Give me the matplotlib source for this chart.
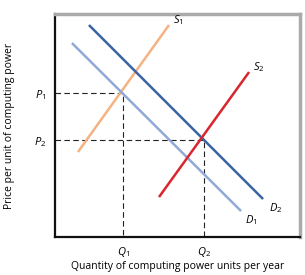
import matplotlib
matplotlib.use("Agg")
import matplotlib.pyplot as plt

plt.rcParams['font.family'] = ['Open Sans', 'DejaVu Sans']
plt.rcParams['mathtext.fontset'] = 'custom'
plt.rcParams['mathtext.it'] = 'Open Sans:italic'
plt.rcParams['mathtext.rm'] = 'Open Sans'

# curve end points (quantity, price), arbitrary units
s1_x = [23, 114]
s1_y = [85, 212]
s2_x = [104, 194]
s2_y = [40, 165]
d1_x = [17, 186]
d1_y = [194, 26]
d2_x = [34, 208]
d2_y = [212, 38]

# equilibrium points
q1, p1 = 68, 144
q2, p2 = 149, 97

fig = plt.figure(figsize=(3.05, 2.75), dpi=100)
ax = fig.add_axes([0.180, 0.138, 0.804, 0.811])
ax.set_xlim(0, 245)
ax.set_ylim(0, 223)

# dashed guides
ax.plot([0, q1, q1], [p1, p1, 0], ls=(0, (5, 3)), color='#222222', lw=0.8)
ax.plot([0, q2, q2], [p2, p2, 0], ls=(0, (5, 3)), color='#222222', lw=0.8)

ax.plot(s1_x, s1_y, color='#F5B283', lw=1.8, solid_capstyle='butt')
ax.plot(d1_x, d1_y, color='#91A9D6', lw=1.8, solid_capstyle='butt')
ax.plot(d2_x, d2_y, color='#3B64A3', lw=1.8, solid_capstyle='butt')
ax.plot(s2_x, s2_y, color='#D9262E', lw=1.8, solid_capstyle='butt')

fs = 8
ax.text(s1_x[1] + 4, s1_y[1] + 5, '$S_1$', fontsize=fs, ha='left', va='center')
ax.text(s2_x[1] + 4, s2_y[1] + 5, '$S_2$', fontsize=fs, ha='left', va='center')
ax.text(d1_x[1] + 4, d1_y[1] - 9, '$D_1$', fontsize=fs, ha='left', va='center')
ax.text(d2_x[1] + 6, d2_y[1] - 9, '$D_2$', fontsize=fs, ha='left', va='center')

ax.set_xticks([q1, q2])
ax.set_xticklabels(['$Q_1$', '$Q_2$'], fontsize=fs)
ax.set_yticks([p2, p1])
ax.set_yticklabels(['$P_2$', '$P_1$'], fontsize=fs)
ax.tick_params(length=0, pad=6)

ax.set_xlabel('Quantity of computing power units per year', fontsize=7.5, labelpad=1)
ax.set_ylabel('Price per unit of computing power', fontsize=7.5, labelpad=14)

for side in ['left', 'bottom']:
    ax.spines[side].set_linewidth(1.6)
    ax.spines[side].set_color('#111111')
for side in ['top', 'right']:
    ax.spines[side].set_linewidth(2.5)
    ax.spines[side].set_color('#AAAAAA')

fig.savefig('out.png', dpi=100)
